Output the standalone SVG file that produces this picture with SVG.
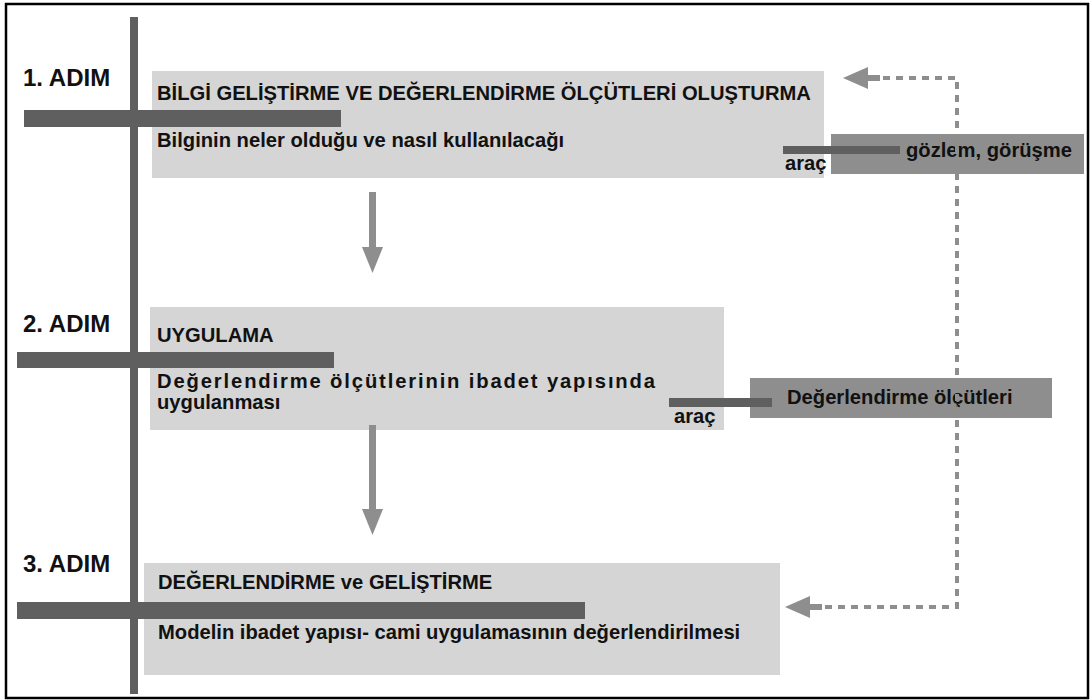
<svg xmlns="http://www.w3.org/2000/svg" width="1091" height="700" viewBox="0 0 1091 700">
  <style>
    .box { fill: #d5d5d5; }
    .tool { fill: #8e8e8e; }
    .bar { fill: #5f5f5f; }
    .t { font-family: "Liberation Sans", Arial, sans-serif; font-weight: bold; font-size: 20.2px; fill: #111; }
    .step { font-family: "Liberation Sans", Arial, sans-serif; font-weight: bold; font-size: 24px; fill: #111; }
    .flow { fill: #8e8e8e; }
    .dash { fill: none; stroke: #8e8e8e; stroke-width: 4; stroke-dasharray: 7 6; }
  </style>

  <rect x="0" y="0" width="1091" height="700" fill="#fff"/>
  <!-- frame -->
  <rect x="6" y="4" width="1082" height="694" fill="none" stroke="#000" stroke-width="2.5"/>

  <!-- step 1 -->
  <g id="step1">
    <rect class="box" x="152" y="71" width="672" height="107"/>
    <text class="step" x="23" y="86">1. ADIM</text>
    <text class="t" x="157" y="100">BİLGİ GELİŞTİRME VE DEĞERLENDİRME ÖLÇÜTLERİ OLUŞTURMA</text>
    <text class="t" x="157" y="147">Bilginin neler olduğu ve nasıl kullanılacağı</text>
  </g>
  <g id="tool1">
    <rect class="tool" x="831" y="134" width="253" height="40"/>
    <rect class="bar" x="783" y="146" width="117" height="8"/>
    <text class="t" x="906" y="157">gözlem, görüşme</text>
    <text class="t" x="785" y="170">araç</text>
  </g>

  <!-- step 2 -->
  <g id="step2">
    <rect class="box" x="150" y="307" width="574" height="123"/>
    <text class="step" x="23" y="332">2. ADIM</text>
    <text class="t" x="157" y="342">UYGULAMA</text>
    <text class="t" x="157" y="388" textLength="498" lengthAdjust="spacing">Değerlendirme ölçütlerinin ibadet yapısında</text>
    <text class="t" x="157" y="409">uygulanması</text>
  </g>
  <g id="tool2">
    <rect class="tool" x="750" y="378" width="302" height="40"/>
    <rect class="bar" x="669" y="398" width="103" height="9"/>
    <text class="t" x="787" y="404">Değerlendirme ölçütleri</text>
    <text class="t" x="674" y="423">araç</text>
  </g>

  <!-- step 3 -->
  <g id="step3">
    <rect class="box" x="144" y="563" width="636" height="112"/>
    <text class="step" x="23" y="572">3. ADIM</text>
    <text class="t" x="158" y="589">DEĞERLENDİRME ve GELİŞTİRME</text>
    <text class="t" x="158" y="639">Modelin ibadet yapısı- cami uygulamasının değerlendirilmesi</text>
  </g>

  <!-- timeline spine and step bars -->
  <g id="timeline">
    <rect class="bar" x="130" y="17" width="8" height="677"/>
    <rect class="bar" x="24" y="110" width="317" height="17"/>
    <rect class="bar" x="17" y="352" width="317" height="16"/>
    <rect class="bar" x="17" y="602" width="568" height="17"/>
  </g>

  <!-- connectors -->
  <g id="connectors">
    <rect class="flow" x="369" y="192" width="7" height="56"/>
    <polygon class="flow" points="362,247 383,247 372.5,273"/>
    <rect class="flow" x="369" y="425" width="7" height="85"/>
    <polygon class="flow" points="362,509 383,509 372.5,535"/>

    <path class="dash" d="M883,78 H957 V607 H823"/>
    <rect class="flow" x="866" y="75" width="14" height="6"/>
    <polygon class="flow" points="843,78 868,67 868,89"/>
    <rect class="flow" x="808" y="604" width="14" height="6"/>
    <polygon class="flow" points="785,607 810,596 810,618"/>
  </g>
</svg>
